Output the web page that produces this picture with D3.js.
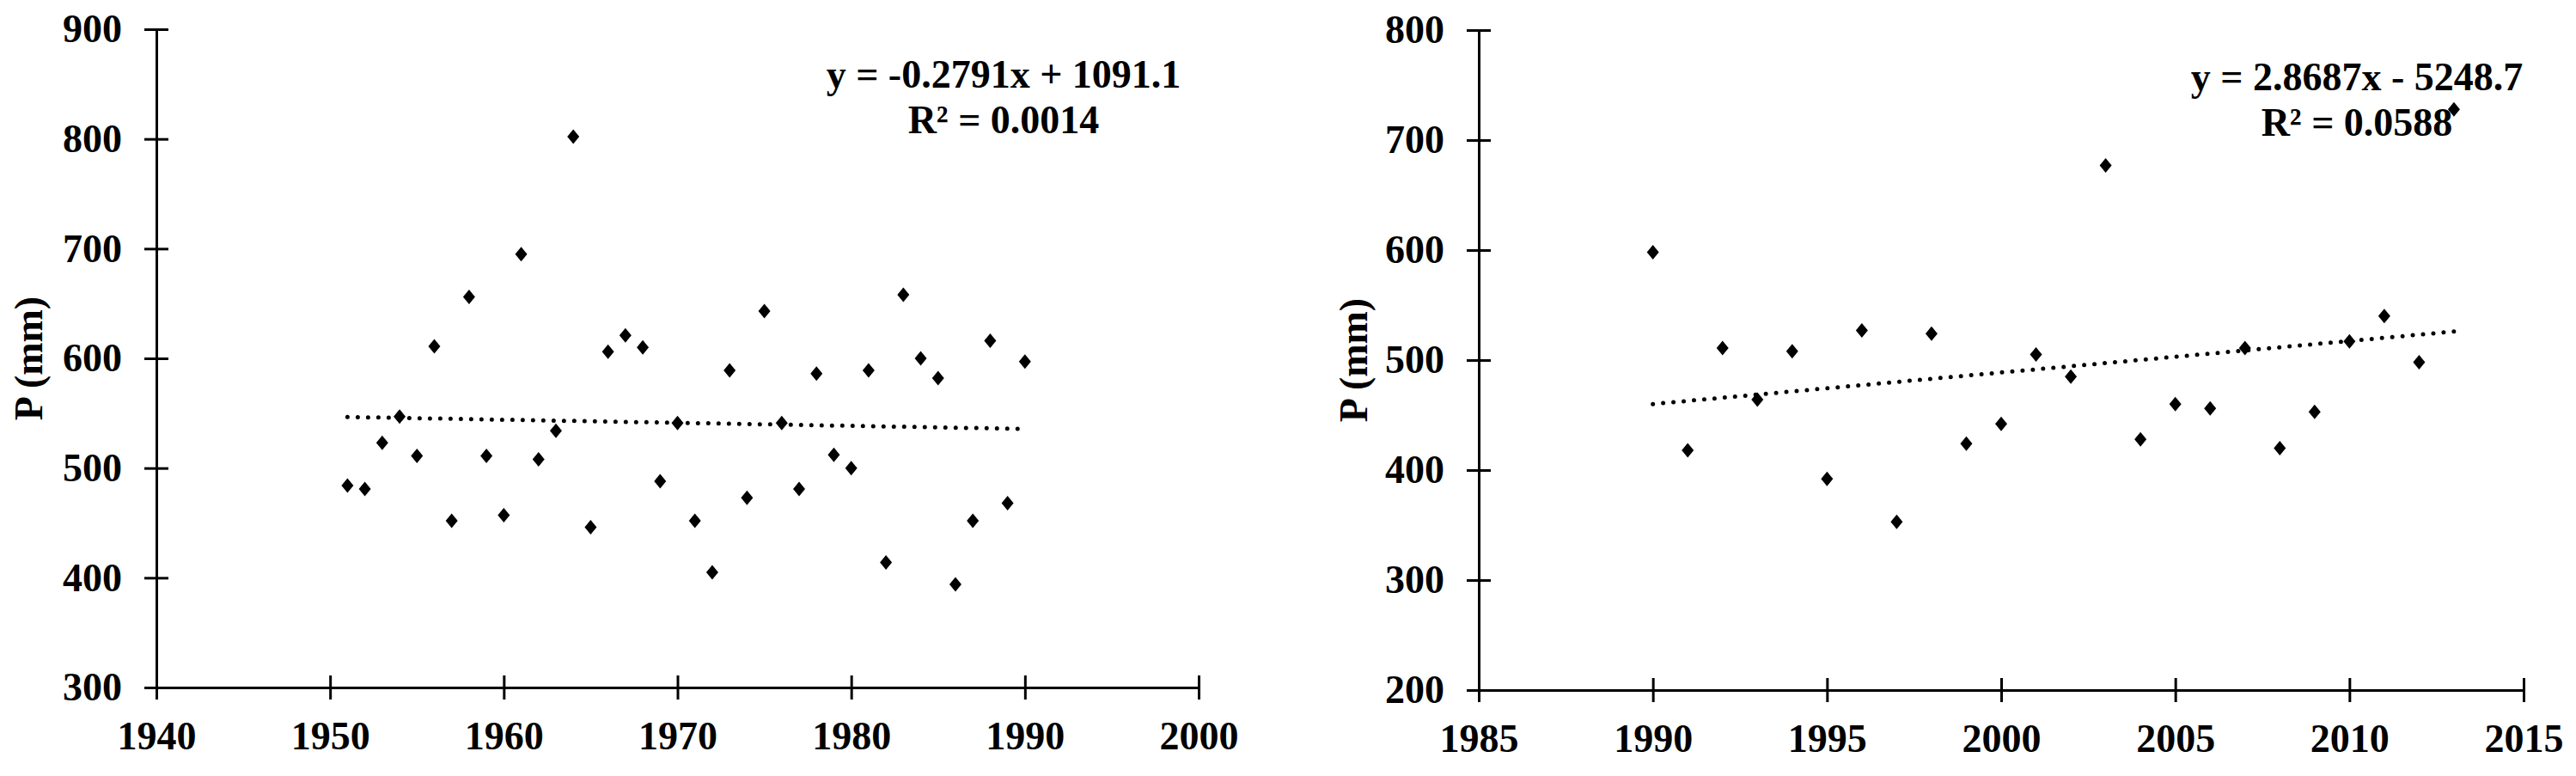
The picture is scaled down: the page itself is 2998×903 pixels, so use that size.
<!DOCTYPE html>
<html>
<head>
<meta charset="utf-8">
<script src="https://cdn.jsdelivr.net/npm/d3@7"></script>
<style>
    body { margin: 0; background: white; }
    svg text { font-family: "Liberation Serif", "Times New Roman", serif; font-weight: bold; fill: black; }
</style>
</head>
<body>
<svg width="2998" height="903"></svg>
<script>
// left panel, 1951-1990
var yearsA = [1951,1952,1953,1954,1955,1956,1957,1958,1959,1960,1961,1962,1963,1964,1965,1966,1967,1968,1969,1970,
              1971,1972,1973,1974,1975,1976,1977,1978,1979,1980,1981,1982,1983,1984,1985,1986,1987,1988,1989,1990];
var precipA = [484,481,523,547,511,611,452,656,511,457,695,508,534,802,446,606,621,610,488,541,
               452,405,589,473,643,541,481,586,512,500,589,414,658,600,582,394,452,616,468,597];
var xTicksA = [1940,1950,1960,1970,1980,1990,2000];
var yTicksA = [300,400,500,600,700,800,900];
var trendA = {slope: -0.2791, intercept: 1091.1};
var eqA = ["y = -0.2791x + 1091.1", "R\u00b2 = 0.0014"];

// right panel, 1990-2013
var yearsB = [1990,1991,1992,1993,1994,1995,1996,1997,1998,1999,2000,2001,
              2002,2003,2004,2005,2006,2007,2008,2009,2010,2011,2012,2013];
var precipB = [598,418,511,464,508,392,527,353,524,424,442,505,
               485,677,428,460,456,511,420,453,517,540,498,728];
var xTicksB = [1985,1990,1995,2000,2005,2010,2015];
var yTicksB = [200,300,400,500,600,700,800];
var trendB = {slope: 2.8687, intercept: -5248.7};
var eqB = ["y = 2.8687x - 5248.7", "R\u00b2 = 0.0588"];

var svg = d3.select("svg");

function drawPanel(opts) {
    var x = d3.scaleLinear()
        .domain([opts.xTicks[0], opts.xTicks[opts.xTicks.length - 1]])
        .range([opts.left, opts.right]);
    var y = d3.scaleLinear()
        .domain([opts.yTicks[0], opts.yTicks[opts.yTicks.length - 1]])
        .range([opts.bottom, opts.top]);

    var g = svg.append("g");

    var yAxis = g.append("g")
        .attr("transform", "translate(" + opts.left + ",0)")
        .call(d3.axisLeft(y).tickValues(opts.yTicks).tickSizeOuter(0).tickSize(14).tickPadding(26));
    yAxis.selectAll(".tick line").attr("x2", -14).attr("x1", 14);

    var xAxis = g.append("g")
        .attr("transform", "translate(0," + opts.bottom + ")")
        .call(d3.axisBottom(x).tickValues(opts.xTicks).tickFormat(d3.format("d")).tickSizeOuter(0).tickSize(14).tickPadding(25));
    xAxis.selectAll(".tick line").attr("y1", -14).attr("y2", 14);

    g.selectAll(".domain, .tick line")
        .attr("stroke", "black")
        .attr("stroke-width", 3);
    g.selectAll(".tick text")
        .style("font-size", "46px");

    // dotted trend line
    var x0 = opts.years[0], x1 = opts.years[opts.years.length - 1];
    g.append("line")
        .attr("x1", x(x0))
        .attr("y1", y(opts.trend.slope * x0 + opts.trend.intercept))
        .attr("x2", x(x1))
        .attr("y2", y(opts.trend.slope * x1 + opts.trend.intercept))
        .attr("stroke", "black")
        .attr("stroke-width", 5)
        .attr("stroke-linecap", "round")
        .attr("stroke-dasharray", "0 12");

    // diamond markers
    g.selectAll(".dot")
        .data(opts.years)
        .enter().append("path")
        .attr("class", "dot")
        .attr("d", "M0,-8.5L7,0L0,8.5L-7,0Z")
        .attr("fill", "black")
        .attr("transform", function(d, i) {
            return "translate(" + x(d) + "," + y(opts.values[i]) + ")";
        });

    g.selectAll(".eq")
        .data(opts.eq)
        .enter().append("text")
        .attr("class", "eq")
        .attr("x", opts.eqX)
        .attr("y", function(d, i) { return opts.eqY + i * 53; })
        .attr("text-anchor", "middle")
        .style("font-size", "46px")
        .text(function(d) { return d; });

    g.append("text")
        .attr("transform", "translate(" + opts.titleX + "," + ((opts.top + opts.bottom) / 2) + ") rotate(-90)")
        .attr("text-anchor", "middle")
        .attr("dy", "0.35em")
        .style("font-size", "46px")
        .text("P (mm)");
}

drawPanel({years: yearsA, values: precipA, xTicks: xTicksA, yTicks: yTicksA, trend: trendA, eq: eqA,
           left: 182, right: 1395, top: 34, bottom: 800, eqX: 1168, eqY: 102, titleX: 33});
drawPanel({years: yearsB, values: precipB, xTicks: xTicksB, yTicks: yTicksB, trend: trendB, eq: eqB,
           left: 1721, right: 2937, top: 35, bottom: 803, eqX: 2743, eqY: 105, titleX: 1575});
</script>
</body>
</html>
